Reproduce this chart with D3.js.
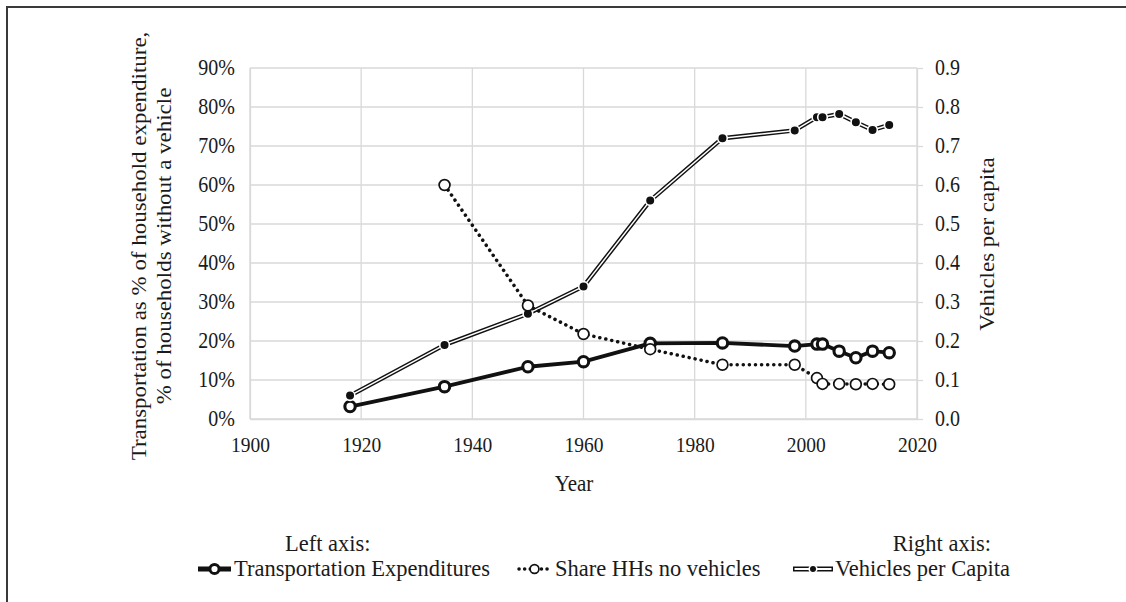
<!DOCTYPE html>
<html>
<head>
<meta charset="utf-8">
<script src="https://cdn.jsdelivr.net/npm/d3@7"></script>
<style>
  html, body { margin: 0; padding: 0; background: #fff; }
  svg { display: block; }
  text { font-family: "Liberation Serif", "Times New Roman", serif; fill: #1a1a1a; }
</style>
</head>
<body>
<svg id="chart" width="1126" height="602"></svg>
<script>
// ---- data ----
const years = [1918, 1935, 1950, 1960, 1972, 1985, 1998, 2002, 2003, 2006, 2009, 2012, 2015];
const transportExp = [3.2, 8.3, 13.4, 14.7, 19.4, 19.5, 18.7, 19.2, 19.2, 17.4, 15.7, 17.4, 17.0];
const shareNoVehicle = [null, 60.0, 29.1, 21.8, 17.9, 13.9, 13.9, 10.5, 9.0, 9.0, 8.9, 9.0, 8.9];
const vehiclesPerCapita = [0.06, 0.19, 0.27, 0.34, 0.56, 0.72, 0.74, 0.774, 0.774, 0.782, 0.761, 0.741, 0.754];
const xTicks = [1900, 1920, 1940, 1960, 1980, 2000, 2020];
const leftTicks = [0, 10, 20, 30, 40, 50, 60, 70, 80, 90];
const rightTicks = [0, 0.1, 0.2, 0.3, 0.4, 0.5, 0.6, 0.7, 0.8, 0.9];
const leftTitle = ["Transportation as % of household expenditure,", "% of households without a vehicle"];
const rightTitle = "Vehicles per capita";
const xTitle = "Year";
const legendNames = ["Transportation Expenditures", "Share HHs no vehicles", "Vehicles per Capita"];

// ---- layout ----
const SY = 1.12; // vertical text stretch seen in the reference
const svg = d3.select("#chart");
const x = d3.scaleLinear().domain([1900, 2020]).range([250, 917]);
const yL = d3.scaleLinear().domain([0, 90]).range([419, 68]);
const yR = d3.scaleLinear().domain([0, 0.9]).range([419, 68]);
const GRID = "#d9d9d9";

// frame
svg.append("path").attr("d", "M7,602 L7,7 L1126,7").attr("fill", "none")
  .attr("stroke", "#3a3a3a").attr("stroke-width", 2);

// gridlines
svg.append("g").selectAll("line").data(leftTicks).join("line")
  .attr("x1", 250).attr("x2", 917).attr("y1", d => yL(d)).attr("y2", d => yL(d))
  .attr("stroke", GRID).attr("stroke-width", 1.3);
svg.append("g").selectAll("line").data(xTicks).join("line")
  .attr("x1", d => x(d)).attr("x2", d => x(d)).attr("y1", 68).attr("y2", 419)
  .attr("stroke", GRID).attr("stroke-width", 1.3);

// axes
const gL = svg.append("g").attr("transform", "translate(250,0)")
  .call(d3.axisLeft(yL).tickValues(leftTicks).tickFormat(d => d + "%").tickSize(0).tickSizeOuter(0));
gL.selectAll("text").attr("x", null).attr("dy", null).attr("y", null)
  .attr("text-anchor", "end").attr("font-size", 20)
  .attr("transform", `translate(-15,6.5) scale(1,${SY})`);

const gR = svg.append("g").attr("transform", "translate(917,0)")
  .call(d3.axisRight(yR).tickValues(rightTicks).tickFormat(d3.format(".1f")).tickSize(6).tickSizeOuter(0));
gR.selectAll("line").attr("stroke", GRID).attr("stroke-width", 1.3);
gR.selectAll("text").attr("x", null).attr("dy", null).attr("y", null)
  .attr("text-anchor", "start").attr("font-size", 20)
  .attr("transform", `translate(18,6.5) scale(1,${SY})`);

const gB = svg.append("g").attr("transform", "translate(0,419)")
  .call(d3.axisBottom(x).tickValues(xTicks).tickFormat(d3.format("d")).tickSize(0).tickSizeOuter(0));
gB.selectAll("text").attr("x", null).attr("dy", null).attr("y", null)
  .attr("text-anchor", "middle").attr("font-size", 19.5)
  .attr("transform", `translate(0,33) scale(1,${SY})`);

[gL, gR, gB].forEach(g => {
  g.select(".domain").attr("stroke", GRID).attr("stroke-width", 1.3);
  g.selectAll("text").attr("fill", "#1a1a1a").attr("font-family", "Liberation Serif");
});

// axis titles
svg.append("text").text(xTitle).attr("text-anchor", "middle").attr("font-size", 21)
  .attr("transform", `translate(574,491) scale(1,${SY})`);
leftTitle.forEach((t, i) => {
  svg.append("text").text(t).attr("text-anchor", "middle").attr("font-size", 20.5)
    .attr("transform", `translate(${146 + i * 25},246) scale(1,${SY}) rotate(-90)`);
});
svg.append("text").text(rightTitle).attr("text-anchor", "middle").attr("font-size", 20.5)
  .attr("transform", `translate(994,244) scale(1,${SY}) rotate(-90)`);

// ---- series ----
const rows = years.map((yr, i) => ({ yr, t: transportExp[i], s: shareNoVehicle[i], v: vehiclesPerCapita[i] }));

// Transportation expenditures
const lineT = d3.line().x(d => x(d.yr)).y(d => yL(d.t));
svg.append("path").datum(rows).attr("d", lineT).attr("fill", "none")
  .attr("stroke", "#111").attr("stroke-width", 3.8).attr("stroke-linejoin", "round");
svg.append("g").selectAll("circle").data(rows).join("circle")
  .attr("cx", d => x(d.yr)).attr("cy", d => yL(d.t)).attr("r", 5.2)
  .attr("fill", "#fff").attr("stroke", "#111").attr("stroke-width", 3.1);

// Vehicles per capita (double line)
const lineV = d3.line().x(d => x(d.yr)).y(d => yR(d.v));
svg.append("path").datum(rows).attr("d", lineV).attr("fill", "none")
  .attr("stroke", "#111").attr("stroke-width", 4.4).attr("stroke-linejoin", "round");
svg.append("path").datum(rows).attr("d", lineV).attr("fill", "none")
  .attr("stroke", "#fff").attr("stroke-width", 1.5).attr("stroke-linejoin", "round");
svg.append("g").selectAll("circle").data(rows).join("circle")
  .attr("cx", d => x(d.yr)).attr("cy", d => yR(d.v)).attr("r", 4.8)
  .attr("fill", "#111").attr("stroke", "#fff").attr("stroke-width", 1.6);

// Share of households with no vehicles (dotted)
const sRows = rows.filter(d => d.s != null);
const lineS = d3.line().x(d => x(d.yr)).y(d => yL(d.s));
svg.append("path").datum(sRows).attr("d", lineS).attr("fill", "none")
  .attr("stroke", "#111").attr("stroke-width", 3.5).attr("stroke-linecap", "round")
  .attr("stroke-dasharray", "0.1,6");
svg.append("g").selectAll("circle").data(sRows).join("circle")
  .attr("cx", d => x(d.yr)).attr("cy", d => yL(d.s)).attr("r", 5.4)
  .attr("fill", "#fff").attr("stroke", "#111").attr("stroke-width", 1.7);

// ---- legend ----
const LF = 22.5;
svg.append("text").text("Left axis:").attr("x", 285).attr("y", 551).attr("font-size", LF);
svg.append("text").text("Right axis:").attr("x", 991).attr("y", 551).attr("text-anchor", "end").attr("font-size", LF);
const ly = 569;
// symbol 1
svg.append("line").attr("x1", 198).attr("x2", 231).attr("y1", ly).attr("y2", ly)
  .attr("stroke", "#111").attr("stroke-width", 5);
svg.append("circle").attr("cx", 214.5).attr("cy", ly).attr("r", 4.6)
  .attr("fill", "#fff").attr("stroke", "#111").attr("stroke-width", 3);
svg.append("text").text(legendNames[0]).attr("x", 234).attr("y", 576).attr("font-size", LF);
// symbol 2
svg.append("line").attr("x1", 519).attr("x2", 551).attr("y1", ly).attr("y2", ly)
  .attr("stroke", "#111").attr("stroke-width", 3.5).attr("stroke-linecap", "round")
  .attr("stroke-dasharray", "0.1,5.5");
svg.append("circle").attr("cx", 534.5).attr("cy", ly).attr("r", 4.4)
  .attr("fill", "#fff").attr("stroke", "#111").attr("stroke-width", 1.7);
svg.append("text").text(legendNames[1]).attr("x", 555).attr("y", 576).attr("font-size", LF);
// symbol 3
svg.append("line").attr("x1", 793).attr("x2", 833).attr("y1", ly).attr("y2", ly)
  .attr("stroke", "#111").attr("stroke-width", 5);
svg.append("line").attr("x1", 794.5).attr("x2", 831.5).attr("y1", ly).attr("y2", ly)
  .attr("stroke", "#fff").attr("stroke-width", 2);
svg.append("circle").attr("cx", 813).attr("cy", ly).attr("r", 3.8)
  .attr("fill", "#111").attr("stroke", "#fff").attr("stroke-width", 1.6);
svg.append("text").text(legendNames[2]).attr("x", 835).attr("y", 576).attr("font-size", LF);
</script>
</body>
</html>
